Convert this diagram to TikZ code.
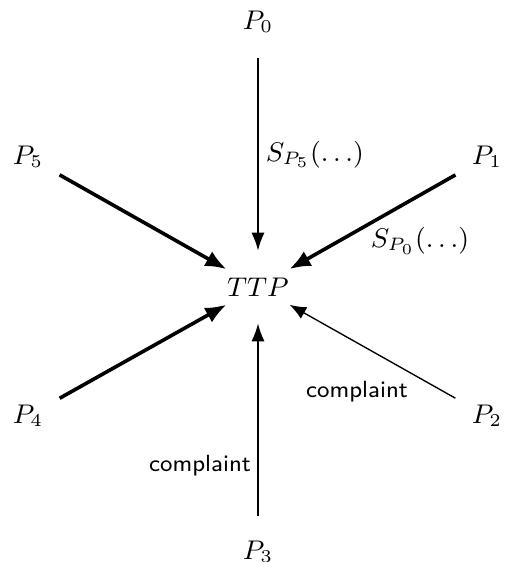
\documentclass[tikz,border=0pt]{standalone}
\usetikzlibrary{arrows.meta}
\begin{document}
\begin{tikzpicture}[x=0.33333pt,y=-0.33333pt,
  every node/.style={font=\fontsize{9}{11}\selectfont},
  pnode/.style={circle,inner sep=0pt,minimum size=23.8pt},
  lbl/.style={font=\sffamily\fontsize{7.8}{9}\selectfont,inner sep=0pt},
  mlbl/.style={inner sep=0pt},
  medarrow/.style={line width=0.65pt,-{Latex[length=6pt,width=4.4pt]}},
  thinarrow/.style={line width=0.45pt,-{Latex[length=5.5pt,width=4.4pt]}},
  bigarrow/.style={line width=1.2pt,-{Latex[length=7pt,width=5.6pt]}}]
\useasboundingbox (0,0) rectangle (504,562);
\node[pnode] (TTP) at (258,287) {$TTP$};
\node[pnode] (P0) at (258,22) {$P_0$};
\node[pnode] (P1) at (487,157) {$P_1$};
\node[pnode] (P2) at (487,416) {$P_2$};
\node[pnode] (P3) at (258,552) {$P_3$};
\node[pnode] (P4) at (28,416) {$P_4$};
\node[pnode] (P5) at (28,157) {$P_5$};
\draw[medarrow] (P0) -- node[midway,right,mlbl,xshift=2.3pt] {$S_{P_5}(\ldots)$} (TTP);
\draw[bigarrow] (P1) -- (TTP);
\draw[bigarrow] (P5) -- (TTP);
\draw[bigarrow] (P4) -- (TTP);
\draw[thinarrow] (P2) -- (TTP);
\draw[medarrow] (P3) -- (TTP);
\node[mlbl] (s0) at (420,241) {$S_{P_0}(\ldots)$};
\node[lbl] (c1) at (357,392) {complaint};
\node[lbl] (c2) at (200,466) {complaint};
\end{tikzpicture}
\end{document}
